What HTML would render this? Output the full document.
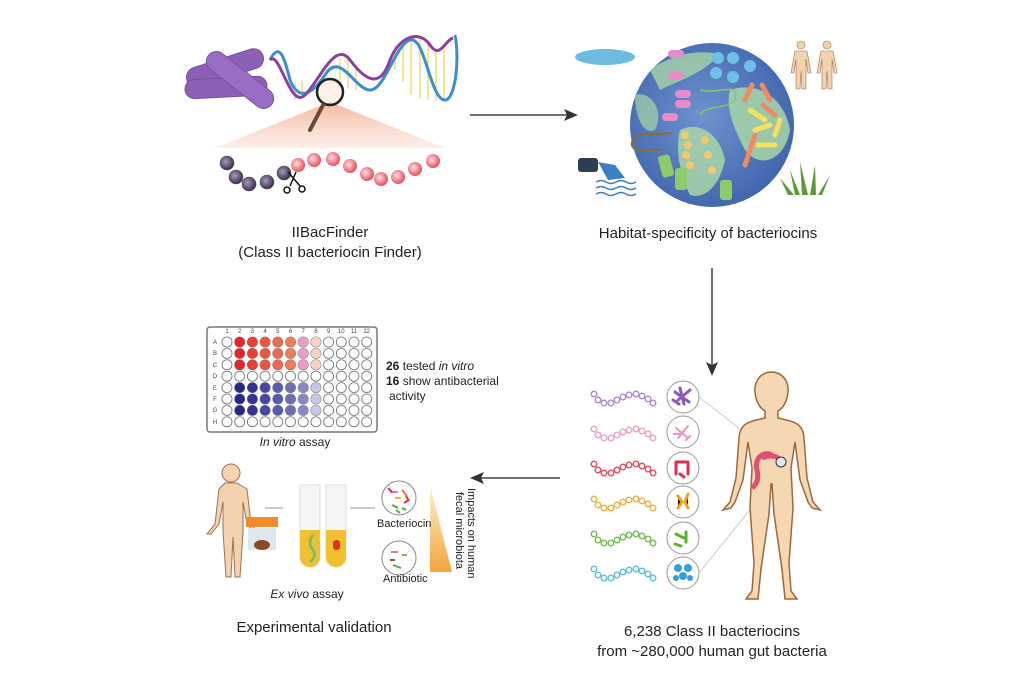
<!DOCTYPE html>
<html><head><meta charset="utf-8"><style>
body{margin:0;background:#fff;}
svg{display:block;font-family:"Liberation Sans",sans-serif;}
</style></head><body>
<svg width="1024" height="683" viewBox="0 0 1024 683" xmlns="http://www.w3.org/2000/svg">
<defs>
<linearGradient id="cone" x1="0" y1="0" x2="0" y2="1"><stop offset="0" stop-color="#f2b8a0"/><stop offset="1" stop-color="#fbe3d8" stop-opacity="0.6"/></linearGradient>
<radialGradient id="pk" cx="0.4" cy="0.4" r="0.6"><stop offset="0" stop-color="#fde0e4"/><stop offset="1" stop-color="#e8505e"/></radialGradient>
<radialGradient id="dk" cx="0.4" cy="0.4" r="0.6"><stop offset="0" stop-color="#a89ab8"/><stop offset="1" stop-color="#3a2d4e"/></radialGradient>
<radialGradient id="gl" cx="0.45" cy="0.45" r="0.6"><stop offset="0" stop-color="#6f93cf"/><stop offset="1" stop-color="#3f64ab"/></radialGradient>
<linearGradient id="tri" x1="0" y1="0" x2="0" y2="1"><stop offset="0" stop-color="#fff2d8"/><stop offset="1" stop-color="#f3a53a"/></linearGradient>
<pattern id="wells" x="220.65" y="336.3" width="12.7" height="11.4" patternUnits="userSpaceOnUse"><circle cx="6.35" cy="5.7" r="5" fill="#fff" stroke="#555" stroke-width="0.7"/></pattern>
<g id="chain" fill="#fff" stroke-width="1.4">
<circle cx="0" cy="0" r="2.8"/><circle cx="4" cy="6" r="2.8"/><circle cx="10" cy="9" r="2.8"/><circle cx="17" cy="9" r="2.8"/><circle cx="23" cy="6" r="2.8"/><circle cx="29" cy="3" r="2.8"/><circle cx="35" cy="1" r="2.8"/><circle cx="42" cy="0" r="2.8"/><circle cx="48" cy="2" r="2.8"/><circle cx="54" cy="5" r="2.8"/><circle cx="59" cy="9" r="2.8"/>
</g>
</defs>

<!-- top-left: rods -->
<g stroke="#7a4fa0" stroke-width="1">
<rect x="185" y="58" width="80" height="20" rx="10" fill="#8d60b8" transform="rotate(-18 225 68)"/>
<rect x="185" y="78" width="82" height="19" rx="9.5" fill="#8d60b8" transform="rotate(-3 225 88)"/>
<rect x="200" y="70" width="80" height="20" rx="10" fill="#9a6dc4" transform="rotate(38 240 80)"/>
</g>
<!-- DNA -->
<g stroke="#f0c830" stroke-width="1">
<line x1="295" y1="82" x2="295" y2="100"/><line x1="302" y1="80" x2="302" y2="96"/><line x1="340" y1="58" x2="340" y2="82"/><line x1="348" y1="58" x2="348" y2="88"/><line x1="356" y1="65" x2="356" y2="90"/><line x1="395" y1="45" x2="395" y2="70"/><line x1="403" y1="42" x2="403" y2="82"/><line x1="411" y1="40" x2="411" y2="95"/><line x1="420" y1="38" x2="420" y2="98"/><line x1="428" y1="42" x2="428" y2="100"/><line x1="436" y1="50" x2="436" y2="100"/><line x1="444" y1="45" x2="444" y2="100"/>
</g>
<g fill="none" stroke-width="3">
<path d="M270,60 C280,40 285,60 290,80 C300,105 315,90 325,75 C340,50 355,90 370,90 C385,90 395,45 410,40 C425,35 430,100 445,100 C455,100 460,60 455,35" stroke="#3a8fd0"/>
<path d="M270,60 C280,50 290,110 305,95 C320,80 335,40 350,60 C365,80 380,90 390,60 C400,35 420,30 430,45 C440,60 445,40 453,38" stroke="#8d3fa0"/>
</g>
<!-- cone -->
<polygon points="330,102 445,148 215,148" fill="url(#cone)"/>
<circle cx="330" cy="92" r="13" fill="rgba(255,220,200,0.4)" stroke="#222" stroke-width="2.5"/>
<line x1="323" y1="105" x2="310" y2="130" stroke="#6b4a30" stroke-width="4" stroke-linecap="round"/>
<!-- beads -->
<g stroke="#555" stroke-width="0.6">
<circle cx="227" cy="163" r="7" fill="url(#dk)"/><circle cx="236" cy="177" r="7" fill="url(#dk)"/><circle cx="249" cy="184" r="7" fill="url(#dk)"/><circle cx="267" cy="182" r="7" fill="url(#dk)"/><circle cx="284" cy="173" r="7" fill="url(#dk)"/>
</g>
<g>
<circle cx="298" cy="165" r="7" fill="url(#pk)"/><circle cx="314" cy="160" r="7" fill="url(#pk)"/><circle cx="333" cy="159" r="7" fill="url(#pk)"/><circle cx="350" cy="166" r="7" fill="url(#pk)"/><circle cx="367" cy="174" r="7" fill="url(#pk)"/><circle cx="381" cy="179" r="7" fill="url(#pk)"/><circle cx="398" cy="177" r="7" fill="url(#pk)"/><circle cx="415" cy="169" r="7" fill="url(#pk)"/><circle cx="433" cy="161" r="7" fill="url(#pk)"/>
</g>
<g stroke="#111" stroke-width="1.5" fill="none"><line x1="288" y1="172" x2="300" y2="186"/><line x1="296" y1="172" x2="290" y2="186"/><circle cx="287" cy="190" r="3"/><circle cx="302" cy="189" r="3"/></g>
<text x="330" y="237" font-size="15" text-anchor="middle" fill="#222">IIBacFinder</text>
<text x="330" y="257" font-size="15" text-anchor="middle" fill="#222">(Class II bacteriocin Finder)</text>

<!-- arrows -->
<g stroke="#444" stroke-width="1.5" fill="#333">
<line x1="470" y1="115" x2="570" y2="115"/><polygon points="578,115 564,109 567,115 564,121" stroke="none"/>
<line x1="712" y1="268" x2="712" y2="368"/><polygon points="712,376 706,362 712,365 718,362" stroke="none"/>
<line x1="560" y1="478" x2="478" y2="478"/><polygon points="470,478 484,472 481,478 484,484" stroke="none"/>
</g>

<!-- globe -->
<circle cx="712" cy="125" r="82" fill="url(#gl)"/>
<path d="M650,70 C670,55 700,48 720,55 C700,75 680,80 660,90 Z" fill="#a8d6a8" opacity="0.8"/>
<path d="M680,130 C700,120 720,135 725,160 C720,185 705,200 690,195 C680,175 675,150 680,130 Z" fill="#a8d6a8" opacity="0.85"/>
<path d="M730,90 C760,80 785,100 790,130 C785,160 760,170 745,150 C735,130 725,110 730,90 Z" fill="#a8d6a8" opacity="0.85"/>
<path d="M635,95 C650,90 665,110 655,130 C645,135 635,120 635,95 Z" fill="#a8d6a8" opacity="0.7"/>
<g fill="#e88cc8"><rect x="668" y="50" width="16" height="8" rx="4"/><rect x="668" y="72" width="16" height="8" rx="4"/><rect x="675" y="90" width="16" height="8" rx="4"/><rect x="675" y="100" width="16" height="8" rx="4"/><rect x="662" y="113" width="16" height="8" rx="4"/></g>
<g fill="#6cc2e6"><circle cx="718" cy="58" r="6"/><circle cx="733" cy="58" r="6"/><circle cx="716" cy="73" r="6"/><circle cx="733" cy="77" r="6"/><circle cx="750" cy="66" r="6"/></g>
<g stroke="#f08a60" stroke-width="5" stroke-linecap="round"><line x1="745" y1="100" x2="752" y2="85"/><line x1="762" y1="85" x2="770" y2="100"/><line x1="763" y1="105" x2="775" y2="115"/><line x1="745" y1="165" x2="755" y2="135"/></g>
<g stroke="#f5e060" stroke-width="5" stroke-linecap="round"><line x1="750" y1="110" x2="765" y2="120"/><line x1="755" y1="130" x2="770" y2="125"/><line x1="780" y1="120" x2="775" y2="135"/><line x1="758" y1="145" x2="775" y2="145"/></g>
<g fill="#f5c870"><circle cx="685" cy="135" r="4"/><circle cx="688" cy="145" r="4"/><circle cx="686" cy="155" r="4"/><circle cx="690" cy="165" r="4"/><circle cx="705" cy="140" r="4"/><circle cx="708" cy="155" r="4"/><circle cx="712" cy="170" r="4"/></g>
<g fill="#8ccc6a"><rect x="660" y="155" width="12" height="22" rx="3" transform="rotate(-15 666 166)"/><rect x="675" y="168" width="12" height="22" rx="3"/><rect x="720" y="180" width="12" height="20" rx="3"/></g>
<path d="M672,133 L640,135 C628,140 630,150 640,150 L662,150" fill="none" stroke="#8a6a3a" stroke-width="2"/>
<path d="M700,90 C720,95 740,80 735,100 C725,110 705,105 700,115" fill="none" stroke="#7cc86c" stroke-width="1.5"/>
<!-- puddle -->
<ellipse cx="605" cy="57" rx="30" ry="8" fill="#6cbbe0"/>
<!-- pipe -->
<rect x="578" y="158" width="20" height="14" rx="3" fill="#2e3e52"/>
<path d="M598,162 L615,165 L625,178 L608,180 Z" fill="#3a80c0"/>
<g stroke="#3a80c0" stroke-width="1.5" fill="none"><path d="M596,182 q5,-3 10,0 t10,0 t10,0 t10,0"/><path d="M596,188 q5,-3 10,0 t10,0 t10,0 t10,0"/><path d="M596,194 q5,-3 10,0 t10,0 t10,0 t10,0"/></g>
<!-- grass -->
<g fill="#5a9a3a"><path d="M795,195 L790,170 L800,195Z"/><path d="M802,195 L800,162 L808,195Z"/><path d="M810,195 L815,165 L816,195Z"/><path d="M818,195 L830,175 L822,195Z"/><path d="M788,195 L780,178 L794,195Z"/></g>
<!-- small humans top right -->
<g fill="#f3d2b0" stroke="#a07050" stroke-width="0.6">
<circle cx="801" cy="45" r="4"/><path d="M795,51 h12 l4,22 h-3 l-2,-14 v30 h-4 l-1,-18 l-1,18 h-4 v-30 l-2,14 h-3 Z"/>
<circle cx="827" cy="45" r="4"/><path d="M821,51 h12 l4,22 h-3 l-2,-14 v30 h-4 l-1,-18 l-1,18 h-4 v-30 l-2,14 h-3 Z"/>
</g>
<text x="708" y="238" font-size="15" text-anchor="middle" fill="#222">Habitat-specificity of bacteriocins</text>

<!-- plate -->
<rect x="207" y="327" width="170" height="105" rx="3" fill="#fff" stroke="#777" stroke-width="1.5"/>
<rect x="220.65" y="336.3" width="152.4" height="91.2" fill="url(#wells)"/>
<g font-size="6" fill="#444" text-anchor="middle">
<text x="227" y="333">1</text><text x="239.7" y="333">2</text><text x="252.4" y="333">3</text><text x="265.1" y="333">4</text><text x="277.8" y="333">5</text><text x="290.5" y="333">6</text><text x="303.2" y="333">7</text><text x="315.9" y="333">8</text><text x="328.6" y="333">9</text><text x="341.3" y="333">10</text><text x="354" y="333">11</text><text x="366.7" y="333">12</text>
<text x="215" y="344">A</text><text x="215" y="355">B</text><text x="215" y="367">C</text><text x="215" y="378">D</text><text x="215" y="390">E</text><text x="215" y="401">F</text><text x="215" y="412">G</text><text x="215" y="424">H</text>
</g>
<g>
<g fill="#e8232a"><circle cx="239.7" cy="342" r="5"/><circle cx="239.7" cy="353.4" r="5"/><circle cx="239.7" cy="364.8" r="5"/></g>
<g fill="#ea3e30"><circle cx="252.4" cy="342" r="5"/><circle cx="252.4" cy="353.4" r="5"/><circle cx="252.4" cy="364.8" r="5"/></g>
<g fill="#ec563c"><circle cx="265.1" cy="342" r="5"/><circle cx="265.1" cy="353.4" r="5"/><circle cx="265.1" cy="364.8" r="5"/></g>
<g fill="#ee6a4c"><circle cx="277.8" cy="342" r="5"/><circle cx="277.8" cy="353.4" r="5"/><circle cx="277.8" cy="364.8" r="5"/></g>
<g fill="#ef7c5a"><circle cx="290.5" cy="342" r="5"/><circle cx="290.5" cy="353.4" r="5"/><circle cx="290.5" cy="364.8" r="5"/></g>
<g fill="#ee9cc0"><circle cx="303.2" cy="342" r="5"/><circle cx="303.2" cy="353.4" r="5"/><circle cx="303.2" cy="364.8" r="5"/></g>
<g fill="#f6d2c4"><circle cx="315.9" cy="342" r="5"/><circle cx="315.9" cy="353.4" r="5"/><circle cx="315.9" cy="364.8" r="5"/></g>
<g fill="#262686"><circle cx="239.7" cy="387.6" r="5"/><circle cx="239.7" cy="399" r="5"/><circle cx="239.7" cy="410.4" r="5"/></g>
<g fill="#333395"><circle cx="252.4" cy="387.6" r="5"/><circle cx="252.4" cy="399" r="5"/><circle cx="252.4" cy="410.4" r="5"/></g>
<g fill="#4848a3"><circle cx="265.1" cy="387.6" r="5"/><circle cx="265.1" cy="399" r="5"/><circle cx="265.1" cy="410.4" r="5"/></g>
<g fill="#5b5bae"><circle cx="277.8" cy="387.6" r="5"/><circle cx="277.8" cy="399" r="5"/><circle cx="277.8" cy="410.4" r="5"/></g>
<g fill="#6c6cb7"><circle cx="290.5" cy="387.6" r="5"/><circle cx="290.5" cy="399" r="5"/><circle cx="290.5" cy="410.4" r="5"/></g>
<g fill="#8888c4"><circle cx="303.2" cy="387.6" r="5"/><circle cx="303.2" cy="399" r="5"/><circle cx="303.2" cy="410.4" r="5"/></g>
<g fill="#c8c8e2"><circle cx="315.9" cy="387.6" r="5"/><circle cx="315.9" cy="399" r="5"/><circle cx="315.9" cy="410.4" r="5"/></g>
</g>
<g font-size="12" fill="#222">
<text x="386" y="370"><tspan font-weight="bold">26</tspan> tested <tspan font-style="italic">in vitro</tspan></text>
<text x="386" y="385"><tspan font-weight="bold">16</tspan> show antibacterial</text>
<text x="389" y="400">activity</text>
<text x="295" y="446" text-anchor="middle"><tspan font-style="italic">In vitro</tspan> assay</text>
</g>

<!-- bottom-left human -->
<g fill="#f3d2b0" stroke="#a07050" stroke-width="1">
<circle cx="231" cy="473" r="9"/>
<path d="M225,483 h12 l10,6 l4,35 l8,10 h-4 l-8,-10 l-4,-22 v30 l-3,45 h-5 l-2,-40 l-2,40 h-5 l-3,-45 v-30 l-4,22 l-8,10 h-4 l8,-10 l4,-35 Z"/>
</g>
<rect x="246" y="517" width="32" height="10" fill="#f28c28"/>
<rect x="248" y="528" width="28" height="22" fill="#dbe8ee"/>
<ellipse cx="262" cy="545" rx="8" ry="5" fill="#8a4a2a"/>
<g stroke="#777" stroke-width="0.8"><line x1="265" y1="508" x2="283" y2="508"/><line x1="350" y1="508" x2="375" y2="508"/></g>
<g stroke="#ddd" stroke-width="1" fill="#f6f6f6">
<path d="M300,485 v72 a10,10 0 0 0 20,0 v-72 Z"/><path d="M326,485 v72 a10,10 0 0 0 20,0 v-72 Z"/>
</g>
<path d="M300,530 v27 a10,10 0 0 0 20,0 v-27 Z" fill="#f0c030"/>
<path d="M326,530 v27 a10,10 0 0 0 20,0 v-27 Z" fill="#f0c030"/>
<path d="M313,535 q-6,8 0,15 q4,6 -3,12" fill="none" stroke="#6cc070" stroke-width="2.5"/>
<rect x="333" y="540" width="7" height="10" rx="3" fill="#e03020"/>
<circle cx="399" cy="498" r="17" fill="#fff" stroke="#888"/>
<circle cx="399" cy="558" r="17" fill="#fff" stroke="#888"/>
<g stroke-width="2"><path d="M390,492 h8" stroke="#e870b0"/><path d="M402,490 l5,6" stroke="#f07040"/><path d="M392,505 l6,3" stroke="#50b030"/><path d="M404,503 l5,-3" stroke="#e83040"/><path d="M395,498 h6" stroke="#f0c020"/><path d="M388,488 l4,4 M406,496 l3,5" stroke="#e03030"/><path d="M396,510 l4,3 M402,508 l4,2" stroke="#50b030"/><path d="M391,552 h7" stroke="#e870b0"/><path d="M393,565 l8,3" stroke="#50b030"/><path d="M402,555 h5" stroke="#8ab060"/><path d="M390,560 l5,0" stroke="#8a6030"/></g>
<polygon points="430,485 452,572 430,572" fill="url(#tri)"/>
<g font-size="11" fill="#222"><text x="377" y="527">Bacteriocin</text><text x="383" y="582">Antibiotic</text></g>
<text transform="translate(468,488) rotate(90)" font-size="11" fill="#222">Impacts on human</text>
<text transform="translate(456,492) rotate(90)" font-size="11" fill="#222">fecal microbiota</text>
<text x="307" y="598" font-size="12" font-style="italic" text-anchor="middle" fill="#222">Ex vivo <tspan font-style="normal">assay</tspan></text>
<text x="314" y="632" font-size="15" text-anchor="middle" fill="#222">Experimental validation</text>

<!-- bottom-right chains -->
<use href="#chain" x="594" y="394" stroke="#b08ad0"/>
<use href="#chain" x="594" y="429" stroke="#f0a0c8"/>
<use href="#chain" x="594" y="464" stroke="#e84a60"/>
<use href="#chain" x="594" y="499" stroke="#f0b040"/>
<use href="#chain" x="594" y="534" stroke="#70c050"/>
<use href="#chain" x="594" y="569" stroke="#5ac0e0"/>
<g fill="#fff" stroke="#999" stroke-width="1">
<circle cx="683" cy="397" r="16"/><circle cx="683" cy="432" r="16"/><circle cx="683" cy="468" r="16"/><circle cx="683" cy="502" r="16"/><circle cx="683" cy="538" r="16"/><circle cx="683" cy="573" r="16"/>
</g>
<g stroke-width="3" stroke-linecap="round">
<path d="M675,392 l14,10 M680,388 l4,16 M690,390 l-12,10 M673,400 l6,4" stroke="#8a5ab8"/>
<path d="M676,428 l12,10 M688,426 l-10,12 M674,434 h6 M686,440 l4,-4" stroke="#ee90c0" stroke-width="2"/>
<path d="M676,462 v12 M676,462 h12 M688,464 v10 M680,474 l4,3" stroke="#e03050"/>
<path d="M678,496 l4,6 l-4,6 M688,494 l-3,8 l3,6" stroke="#f0a020"/>
<path d="M676,534 l8,4 M686,532 v10 M675,544 l6,2" stroke="#60b030"/>
</g>
<g fill="#30a0d8"><circle cx="678" cy="568" r="4"/><circle cx="688" cy="568" r="4"/><circle cx="683" cy="576" r="4"/><circle cx="676" cy="578" r="3"/><circle cx="690" cy="578" r="3"/></g>
<g stroke="#ccc" stroke-width="1"><line x1="699" y1="397" x2="776" y2="457"/><line x1="699" y1="573" x2="782" y2="470"/></g>
<!-- big human -->
<g fill="#f6d7b3" stroke="#9a6a3a" stroke-width="1.5">
<path d="M772,372 c-12,0 -18,10 -17,20 c1,10 5,16 10,19 v7 c-18,4 -25,6 -26,20 l-3,40 l-6,24 l-7,8 l8,-2 l4,-6 l8,-22 l5,-38 l4,26 l-2,40 l4,55 l-2,28 l-6,8 h12 l3,-30 l8,-55 l2,-30 h1 l2,30 l8,55 l3,30 h12 l-6,-8 l-2,-28 l4,-55 l-2,-40 l4,-26 l5,38 l8,22 l4,6 l8,2 l-7,-8 l-6,-24 l-3,-40 c-1,-14 -8,-16 -26,-20 v-7 c5,-3 9,-9 10,-19 c1,-10 -5,-20 -17,-20 Z"/>
</g>
<path d="M772,455 c-10,-5 -18,5 -15,15 c2,8 0,14 -5,18" fill="none" stroke="#e05070" stroke-width="5"/>
<path d="M762,458 c10,-4 18,-2 20,6" fill="none" stroke="#e05070" stroke-width="5"/>
<circle cx="781" cy="462" r="5" fill="#dfe8f0" stroke="#333" stroke-width="1"/>
<text x="712" y="636" font-size="15" text-anchor="middle" fill="#222">6,238 Class II bacteriocins</text>
<text x="712" y="656" font-size="15" text-anchor="middle" fill="#222">from ~280,000 human gut bacteria</text>
</svg>
</body></html>
